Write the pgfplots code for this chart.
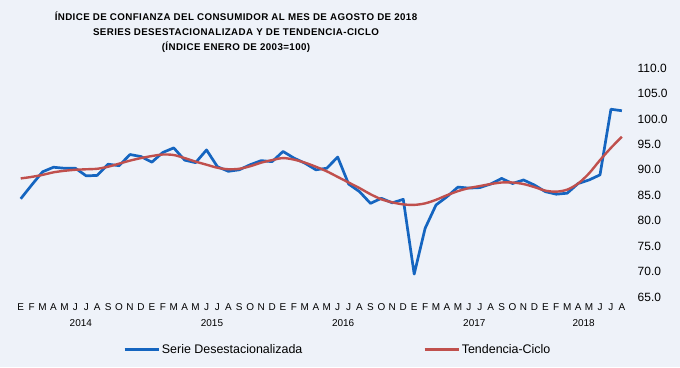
\documentclass[border=0pt]{standalone}
\usepackage{fontspec}
\setmainfont{Liberation Sans}
\newfontfamily\titlefont[LetterSpace=4.0]{Liberation Sans}
\usepackage{pgfplots}
\usepackage{pgfplotstable}
\pgfplotsset{compat=1.18}
\definecolor{bg}{RGB}{238,242,249}
\definecolor{serblue}{RGB}{21,101,192}
\definecolor{sered}{RGB}{192,80,77}

\pgfplotstableread{
i  serie  tend
0  84.3  88.3
1  87.0  88.6
2  89.6  89.0
3  90.5  89.5
4  90.3  89.8
5  90.3  90.0
6  88.8  90.1
7  88.9  90.2
8  91.1  90.6
9  90.8  91.2
10 93.0  91.8
11 92.6  92.3
12 91.5  92.7
13 93.4  93.0
14 94.3  92.9
15 91.9  92.3
16 91.4  91.6
17 93.9  91.0
18 90.6  90.4
19 89.7  90.1
20 90.0  90.2
21 91.0  90.7
22 91.8  91.4
23 91.6  91.9
24 93.6  92.3
25 92.3  92.0
26 91.3  91.4
27 90.0  90.6
28 90.3  89.7
29 92.5  88.6
30 87.2  87.5
31 85.7  86.4
32 83.4  85.2
33 84.4  84.2
34 83.5  83.6
35 84.2  83.2
36 69.5  83.1
37 78.5  83.4
38 83.1  84.1
39 84.7  85.0
40 86.6  85.8
41 86.4  86.4
42 86.5  86.8
43 87.2  87.2
44 88.3  87.5
45 87.3  87.5
46 88.0  87.2
47 87.0  86.6
48 85.7  85.9
49 85.2  85.7
50 85.4  86.1
51 87.3  87.3
52 88.0  89.3
53 89.0  91.9
54 101.9 94.3
55 101.6 96.5
}\datatable

\begin{document}
\begin{tikzpicture}[x=1bp,y=1bp]
\fill[bg] (0,0) rectangle (680,367);
\node[font=\titlefont\bfseries\fontsize{9.8}{15}\selectfont, align=center, inner sep=0] at (236,335)
 {ÍNDICE DE CONFIANZA DEL CONSUMIDOR AL MES DE AGOSTO DE 2018\\
  SERIES DESESTACIONALIZADA Y DE TENDENCIA-CICLO\\
  (ÍNDICE ENERO DE 2003=100)};
\begin{axis}[
  at={(10bp,70bp)}, anchor=south west,
  scale only axis, width=623bp, height=229bp,
  xmin=-0.98, xmax=56.02, ymin=65, ymax=110,
  axis line style={draw=none},
  major tick length=0pt,
  ytick={65,70,...,110},
  yticklabel pos=right,
  yticklabel style={font=\fontsize{12}{13}\selectfont, anchor=west, inner sep=0pt, xshift=4.5bp,
    /pgf/number format/.cd, fixed, fixed zerofill, precision=1, assume math mode=true},
  xtick={0,...,55},
  xticklabels={E,F,M,A,M,J,J,A,S,O,N,D,E,F,M,A,M,J,J,A,S,O,N,D,E,F,M,A,M,J,J,A,S,O,N,D,E,F,M,A,M,J,J,A,S,O,N,D,E,F,M,A,M,J,J,A},
  xticklabel style={font=\fontsize{10}{12}\selectfont, anchor=north, inner sep=0pt, yshift=-6.5bp},
  clip=false,
  legend columns=2,
  legend style={at={(0.1814,-0.2290)}, anchor=west, draw=none, fill=none, inner sep=0pt,
    font=\fontsize{12.5}{14}\selectfont,
    /tikz/every even column/.append style={column sep=119bp}},
  legend image code/.code={\draw[#1] (0bp,0bp) -- (34bp,0bp);},
]
\addplot[serblue, line width=2.7bp, line join=round] table[x=i, y=serie] {\datatable};
\addlegendentry{Serie Desestacionalizada}
\addplot[sered, line width=2.4bp, smooth] table[x=i, y=tend] {\datatable};
\addlegendentry{Tendencia-Ciclo}
\node[font=\fontsize{10}{12}\selectfont, anchor=north, inner sep=0pt] at (axis cs:5.5,65) [yshift=-22bp] {2014};
\node[font=\fontsize{10}{12}\selectfont, anchor=north, inner sep=0pt] at (axis cs:17.5,65) [yshift=-22bp] {2015};
\node[font=\fontsize{10}{12}\selectfont, anchor=north, inner sep=0pt] at (axis cs:29.5,65) [yshift=-22bp] {2016};
\node[font=\fontsize{10}{12}\selectfont, anchor=north, inner sep=0pt] at (axis cs:41.5,65) [yshift=-22bp] {2017};
\node[font=\fontsize{10}{12}\selectfont, anchor=north, inner sep=0pt] at (axis cs:51.5,65) [yshift=-22bp] {2018};
\end{axis}
\end{tikzpicture}
\end{document}
